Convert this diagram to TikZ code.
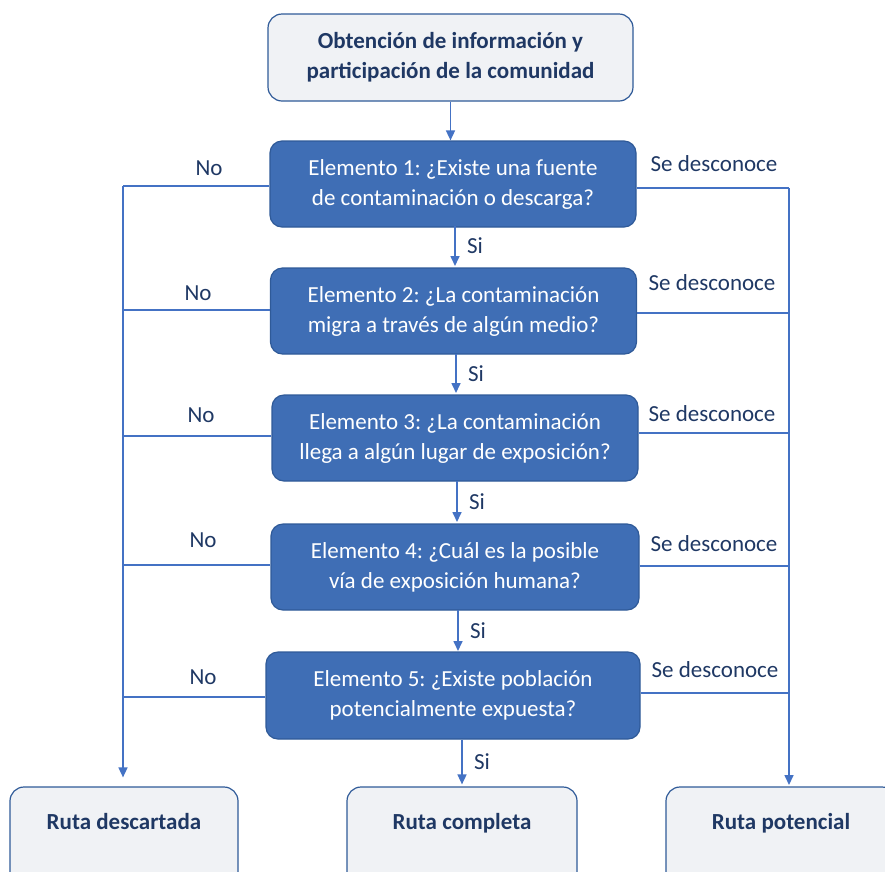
\documentclass[tikz,border=0pt]{standalone}
\usepackage{fontspec}
\setmainfont{Carlito}
\usepackage{xcolor}
\usepackage{tikz}
\usetikzlibrary{arrows.meta}
\definecolor{cfill}{HTML}{3F6EB5}
\definecolor{cedge}{HTML}{2F5A98}
\definecolor{clink}{HTML}{4472C4}
\definecolor{cgray}{HTML}{F0F2F5}
\definecolor{cnavy}{HTML}{1F3864}
\frenchspacing

\tikzset{
  elem/.style={draw=cedge,line width=1.2pt,fill=cfill,rounded corners=12pt,text=white,
    align=center,minimum width=366pt,minimum height=86pt,font=\fontsize{23}{30}\selectfont},
  ruta/.style={draw=cedge,line width=1.2pt,fill=cgray,rounded corners=14pt,text=cnavy,
    align=center,font=\bfseries\fontsize{23}{30}\selectfont},
  rutafin/.style={ruta,minimum width=230pt,minimum height=100pt,text height=16pt,text depth=32pt},
  link/.style={draw=clink,line width=1.6pt},
  lbl/.style={text=cnavy,font=\fontsize{23}{28}\selectfont}
}

\begin{document}
\begin{tikzpicture}[x=1pt,y=-1pt,>={Triangle[length=10pt,width=9pt]}]
  \useasboundingbox (0,0) rectangle (885,871);
  % cajas
  \node[ruta,minimum width=365pt,minimum height=87pt] (info) at (450.5,57.5)
    {Obtención de información y\\participación de la comunidad};
  \node[elem] (e1) at (453,184) {Elemento 1: ¿Existe una fuente\\de contaminación o descarga?};
  \node[elem] (e2) at (453.5,311) {Elemento 2: ¿La contaminación\\migra a través de algún medio?};
  \node[elem] (e3) at (455,438) {Elemento 3: ¿La contaminación\\llega a algún lugar de exposición?};
  \node[elem,minimum width=368pt] (e4) at (455,567) {Elemento 4: ¿Cuál es la posible\\vía de exposición humana?};
  \node[elem,minimum width=374pt,minimum height=87pt] (e5) at (453,695.5) {Elemento 5: ¿Existe población\\potencialmente expuesta?};
  \node[rutafin,minimum width=228pt] (descartada) at (124,837) {Ruta descartada};
  \node[rutafin] (completa) at (462,837) {Ruta completa};
  \node[rutafin] (potencial) at (781,837) {Ruta potencial};

  % uniones
  \coordinate (nojoin) at (123,186);
  \coordinate (sdjoin) at (789,188);
  \coordinate (sdend) at (789,785);

  % flechas Si
  \draw[link,->] (info.south) -- (info.south |- e1.north);
  \draw[link,->] (455,226) -- (455,266) node[lbl,right=8pt,midway] (si1) {Si};
  \draw[link,->] (456,354) -- (456,393) node[lbl,right=8pt,midway] (si2) {Si};
  \draw[link,->] (457,481) -- (457,522) node[lbl,right=8pt,midway] (si3) {Si};
  \draw[link,->] (458,610) -- (458,651) node[lbl,right=8pt,midway] (si4) {Si};
  \draw[link,->] (completa.north |- e5.south) -- ([yshift=2pt]completa.north) node[lbl,right=8pt,midway] (si5) {Si};

  % ramas No
  \draw[link] (e1.west |- nojoin) -- (nojoin);
  \draw[link,->] (nojoin) -- ([yshift=9pt]descartada.north -| nojoin);
  \draw[link] ([yshift=1pt]e2.west) -- ([yshift=1pt]nojoin |- e2.west);
  \draw[link] ([yshift=2pt]e3.west) -- ([yshift=2pt]nojoin |- e3.west);
  \draw[link] ([yshift=2pt]e4.west) -- ([yshift=2pt]nojoin |- e4.west);
  \draw[link] ([yshift=-1.5pt]e5.west) -- ([yshift=-1.5pt]nojoin |- e5.west);
  \node[lbl] (no1) at (209,168) {No};
  \node[lbl] (no2) at (198,293) {No};
  \node[lbl] (no3) at (201,415) {No};
  \node[lbl] (no4) at (203,540) {No};
  \node[lbl] (no5) at (203,677) {No};

  % ramas Se desconoce
  \draw[link] (e1.east |- sdjoin) -- (sdjoin);
  \draw[link,->] (sdjoin) -- (sdend);
  \draw[link] ([yshift=-2pt]e2.east) -- ([yshift=-2pt]sdjoin |- e2.east);
  \draw[link] ([yshift=5pt]e3.east) -- ([yshift=5pt]sdjoin |- e3.east);
  \draw[link] ([yshift=1pt]e4.east) -- ([yshift=1pt]sdjoin |- e4.east);
  \draw[link] ([yshift=2.5pt]e5.east) -- ([yshift=2.5pt]sdjoin |- e5.east);
  \node[lbl] (sd1) at (714,164) {Se desconoce};
  \node[lbl] (sd2) at (712,283) {Se desconoce};
  \node[lbl] (sd3) at (712,414) {Se desconoce};
  \node[lbl] (sd4) at (714,544) {Se desconoce};
  \node[lbl] (sd5) at (715,670) {Se desconoce};
\end{tikzpicture}
\end{document}
